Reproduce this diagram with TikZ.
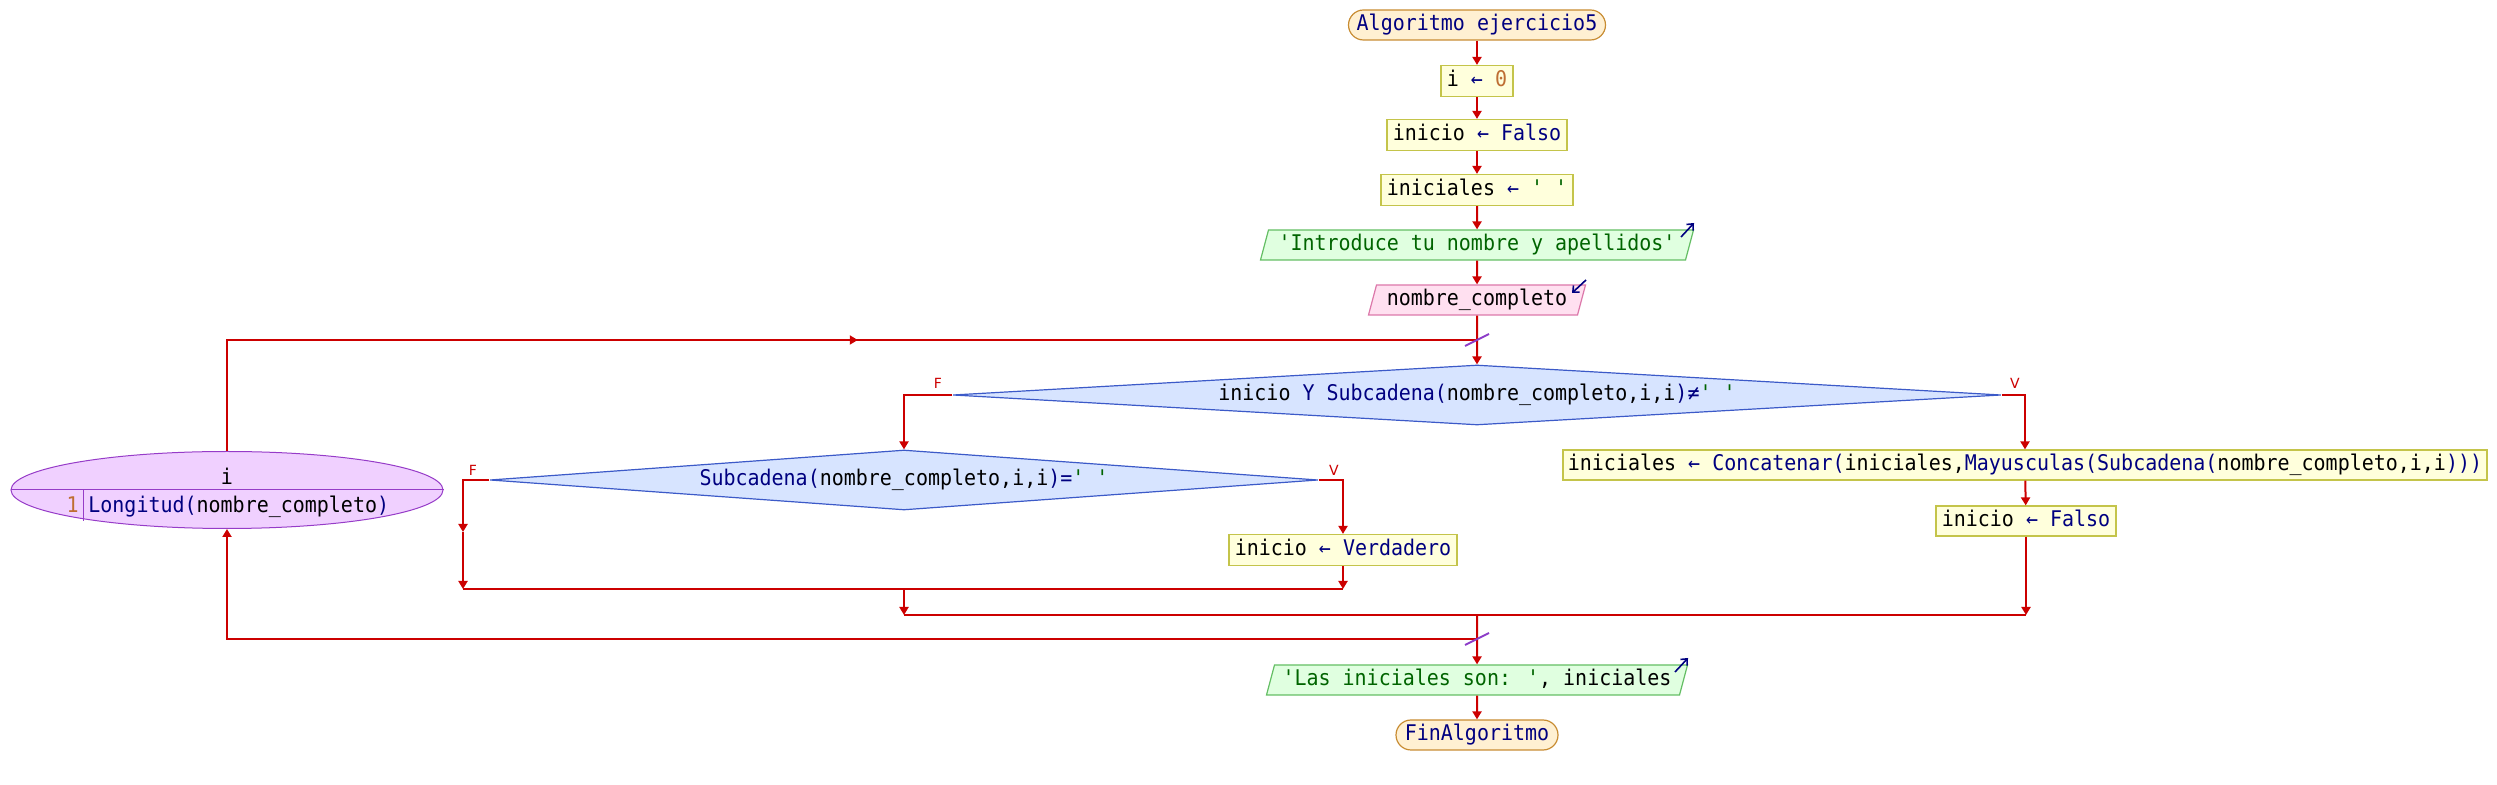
\documentclass[tikz,border=0pt]{standalone}
\usepackage{fontspec}
\setmainfont{DejaVu Sans}
\newfontfamily\pmono[FakeStretch=0.925]{DejaVu Sans Mono}
\usetikzlibrary{shapes.geometric,arrows.meta,calc,decorations.markings}
\definecolor{linec}{HTML}{CC0000}
\definecolor{termf}{HTML}{FFF0D2}
\definecolor{termb}{HTML}{C88C32}
\definecolor{asgf}{HTML}{FFFFDC}
\definecolor{asgb}{HTML}{C4C44A}
\definecolor{outf}{HTML}{E0FFE0}
\definecolor{outb}{HTML}{64BE64}
\definecolor{inf}{HTML}{FFE0F0}
\definecolor{inb}{HTML}{DC78AA}
\definecolor{diaf}{HTML}{D7E4FF}
\definecolor{diab}{HTML}{3C5AC8}
\definecolor{ellf}{HTML}{F0D0FF}
\definecolor{ellb}{HTML}{963CC8}
\definecolor{navyc}{HTML}{000080}
\definecolor{strc}{HTML}{006400}
\definecolor{numc}{HTML}{BE6E32}
\definecolor{slashc}{HTML}{8C3CC8}
\newcommand{\kw}[1]{\textcolor{navyc}{#1}}
\newcommand{\st}[1]{\textcolor{strc}{#1}}
\newcommand{\nm}[1]{\textcolor{numc}{#1}}
\begin{document}
\begin{tikzpicture}[x=0.5pt,y=-0.5pt,
  base/.style={font=\pmono\fontsize{10.8}{12}\selectfont, inner sep=0pt, text height=7.6pt, text depth=2.3pt},
  term/.style={base, draw=termb, fill=termf, rounded corners=7.5pt, minimum height=15pt, line width=0.6pt},
  assign/.style={base, draw=asgb, fill=asgf, minimum height=15.5pt, line width=0.6pt},
  outbox/.style={base, trapezium, trapezium left angle=68, trapezium right angle=112, trapezium stretches body=true, draw=outb, fill=outf, minimum height=15pt, line width=0.6pt},
  inbox/.style={base, trapezium, trapezium left angle=68, trapezium right angle=112, trapezium stretches body=true, draw=inb, fill=inf, minimum height=15pt, line width=0.6pt},
  diam/.style={base, diamond, draw=diab, fill=diaf, line width=0.6pt},
  line/.style={draw=linec, line width=1pt},
  flow/.style={line, -{Triangle[width=4.5pt,length=4pt]}},
  lbl/.style={font=\fontsize{7}{8}\selectfont, text=linec, inner sep=0pt},
  ioarr/.style={draw=navyc, line width=0.8pt, -{Straight Barb[length=2.5pt,width=4.5pt]}},
  slash/.style={draw=slashc, line width=0.9pt},
  midarrow/.style={postaction={decorate}, decoration={markings, mark=at position #1 with {\arrow{Triangle[width=4.5pt,length=4pt]}}}}
]
\useasboundingbox (0,0) rectangle (2497,785);

% main column
\node[term, minimum width=128.5pt] (start) at (1477,25) {\kw{Algoritmo ejercicio5}};
\node[assign, minimum width=36pt] (a1) at (1477,81) {i \kw{←} \nm{0}};
\node[assign, minimum width=90pt] (a2) at (1477,135) {inicio \kw{←} \kw{Falso}};
\node[assign, minimum width=96pt] (a3) at (1477,190) {iniciales \kw{←} \st{' '}};
\node[outbox, minimum width=216.5pt] (o1) at (1477,245) {\st{'Introduce tu nombre y apellidos'}};
\node[inbox, minimum width=108.5pt] (in1) at (1477,300) {nombre\_completo};

\node[diam, aspect=17.4, minimum width=524pt, minimum height=30pt] (d1) at (1477,395)
  {inicio \kw{Y} \kw{Subcadena(}nombre\_completo,i,i\kw{)≠}\st{' '}};
\node[diam, aspect=13.8, minimum width=414pt, minimum height=30pt] (d2) at (904,480)
  {\kw{Subcadena(}nombre\_completo,i,i\kw{)=}\st{' '}};

\node[assign, minimum width=114pt] (v1) at (1343,550) {inicio \kw{←} \kw{Verdadero}};
\node[assign, minimum width=462pt, minimum height=15pt] (c1) at (2025,465)
  {iniciales \kw{←} \kw{Concatenar(}iniciales,\kw{Mayusculas(Subcadena(}nombre\_completo,i,i\kw{)))}};
\node[assign, minimum width=90pt, minimum height=15pt] (f2) at (2026,521) {inicio \kw{←} \kw{Falso}};

\node[outbox, minimum width=210.5pt] (o2) at (1477,680) {\st{'Las iniciales son: '}, iniciales};
\node[term, minimum width=81pt] (fin) at (1477,735) {\kw{FinAlgoritmo}};

% loop ellipse
\node[ellipse, draw=ellb, fill=ellf, line width=0.5pt, minimum width=216pt, minimum height=38.5pt, inner sep=0pt] (ell) at (227,490) {};
\draw[draw=ellb, line width=0.5pt] (ell.west) -- (ell.east);
\draw[draw=ellb, line width=0.5pt] (83,490) -- (83,521);
\node[base] (ellvar) at (227,479) {i};
\node[base, anchor=east] (ellfrom) at (79,507.5) {\nm{1}};
\node[base, anchor=west] (ellto) at (88,507.5) {\kw{Longitud(}nombre\_completo\kw{)}};

% coordinates
\coordinate (looptop) at (1477,340);
\coordinate (botj) at (1477,639);
\coordinate (innerj) at (904,589);
\coordinate (outerj) at (1477,615);
\coordinate (ifm) at (463,532);
\coordinate (ifb) at (463,589);

% connectors
\draw[flow] (start) -- (a1);
\draw[flow] (a1) -- (a2);
\draw[flow] (a2) -- (a3);
\draw[flow] (a3) -- (o1);
\draw[flow] (o1) -- (in1);
\draw[flow] (in1) -- (d1);
\draw[line, midarrow=0.545] (ell.north) |- (looptop);

\draw[flow] (d1.west) -| (d2.north);
\draw[flow] (d1.east) -| (c1.north);
\draw[flow] (c1) -- (f2);
\draw[flow] (f2.south) -- (f2.south |- outerj);

\draw[flow] (d2.east) -| (v1.north);
\draw[flow] (v1.south) -- (v1.south |- innerj);
\draw[flow] (d2.west) -| (ifm);
\draw[flow] (ifm) -- (ifb);
\draw[line] (ifb) -- (v1.south |- innerj);
\draw[flow] (innerj) -- (innerj |- outerj);
\draw[line] (innerj |- outerj) -- (f2.south |- outerj);
\draw[flow] (outerj) -- (o2);
\draw[flow] (botj) -| (ell.south);
\draw[flow] (o2) -- (fin);

% slash marks
\draw[slash] ([shift={(-12,6)}]looptop) -- ([shift={(12,-6)}]looptop);
\draw[slash] ([shift={(-12,6)}]botj) -- ([shift={(12,-6)}]botj);

% io icons
\draw[ioarr] ([shift={(204,-8)}]o1.center) -- ++(13,-14);
\draw[ioarr] ([shift={(109,-20)}]in1.center) -- ++(-14,13);
\draw[ioarr] ([shift={(198,-8)}]o2.center) -- ++(13,-14);

% branch labels
\node[lbl] (lf1) at (938,383) {F};
\node[lbl] (lv1) at (2015,383) {V};
\node[lbl] (lf2) at (473,470) {F};
\node[lbl] (lv2) at (1334,470) {V};
\end{tikzpicture}
\end{document}
